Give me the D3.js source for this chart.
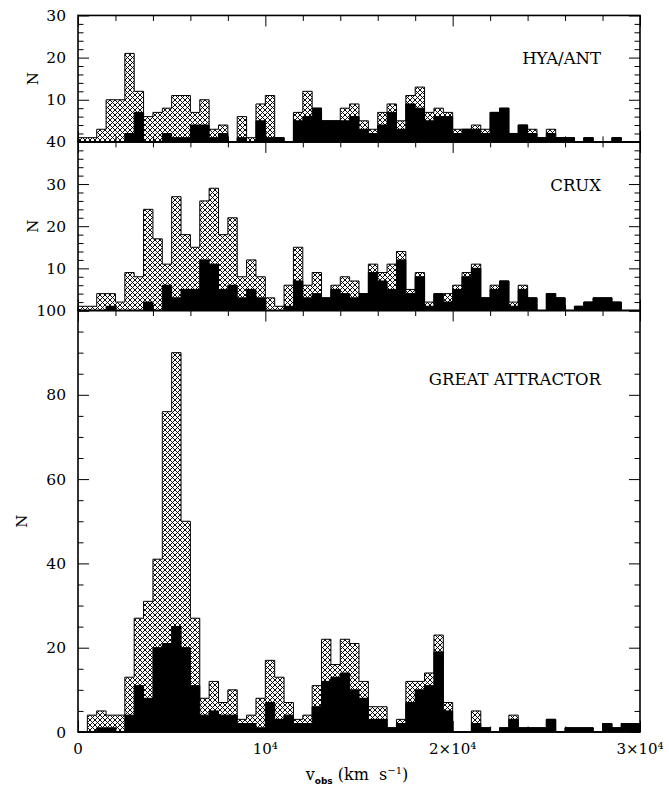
<!DOCTYPE html>
<html>
<head>
<meta charset="utf-8">
<script src="https://d3js.org/d3.v7.min.js"></script>
<style>
  html, body { margin: 0; padding: 0; background: #fff; }
  svg { display: block; }
</style>
</head>
<body>
<svg id="chart" width="669" height="787"></svg>
<script>
// ---------------- data (500 km/s bins, 0 .. 30000 km/s) ----------------
const binWidth = 500;
const xMax = 30000;

const hyaTotal = [1,1,3,10,10,21,12,6,7,8,11,11,7,10,3,4,0,6,1,9,11,1,0,7,12,8,5,5,8,9,
                  5,3,7,9,5,11,13,7,8,7,3,3,4,3,7,8,2,4,3,1,3,1,1,0,1,0,0,1,0,0];
const hyaBlack = [0,0,0,0,0,2,7,0,0,2,1,1,4,4,1,2,0,1,0,5,1,1,0,5,6,8,5,5,5,6,
                  3,2,4,7,3,9,8,5,6,6,2,3,3,2,7,8,2,4,2,1,2,1,1,0,1,0,0,1,0,0];

const cruxTotal = [1,1,4,4,2,9,8,24,17,11,27,18,15,26,29,18,22,8,12,8,3,1,6,15,6,9,3,6,8,7,
                   4,11,9,11,14,5,9,2,4,4,6,9,11,3,6,7,2,6,3,0,4,3,0,1,2,3,3,2,0,0];
const cruxBlack = [0,0,0,1,0,0,0,2,0,6,3,5,5,12,11,5,6,3,5,3,0,0,1,7,3,4,3,5,4,3,
                   4,9,7,5,12,4,8,1,4,2,5,8,10,3,5,7,1,5,3,0,4,3,0,1,2,3,3,2,0,0];

const gaTotal = [0,4,5,4,4,13,27,31,41,76,90,50,27,8,12,7,10,3,4,8,17,13,7,3,4,11,22,16,22,21,
                 12,6,6,1,3,12,12,14,23,7,0,0,5,1,0,1,4,1,1,1,3,0,1,1,1,0,2,1,2,2];
const gaBlack = [0,0,1,1,0,4,11,8,20,21,25,20,11,4,5,4,4,2,2,1,7,3,4,2,2,6,12,13,14,10,
                 8,3,3,1,2,7,10,11,19,5,0,0,2,1,0,1,3,1,1,1,3,0,1,1,1,0,2,1,2,2];

const panelNames = ["HYA/ANT", "CRUX", "GREAT ATTRACTOR"];
const yMaxes = [30, 40, 100];
const yMajorSteps = [10, 10, 20];
const yMinorSteps = [2, 2, 5];
const xMajorTicks = [0, 10000, 20000, 30000];
const xTickLabels = ["0", "10\u2074", "2\u00d710\u2074", "3\u00d710\u2074"];
const xMinorStep = 2000;

// ---------------- layout ----------------
const svg = d3.select("#chart");
const left = 78, right = 640;
const bottom = 732, pxPerUnit = 4.215;

const x = d3.scaleLinear().domain([0, xMax]).range([left, right]);

const defs = svg.append("defs");
const P = 5;
const pat = defs.append("pattern").attr("id", "hatch")
  .attr("patternUnits", "userSpaceOnUse").attr("width", P).attr("height", P);
pat.append("rect").attr("width", P).attr("height", P).attr("fill", "#fff");
pat.append("path").attr("d", `M0,0L${P},${P}M${P},0L0,${P}`)
  .attr("stroke", "#000").attr("stroke-width", 0.95).attr("fill", "none");

const totals = [hyaTotal, cruxTotal, gaTotal];
const blacks = [hyaBlack, cruxBlack, gaBlack];

// compute panel vertical extents (bottom panel first)
const panels = [];
let yb = bottom;
for (let p = 2; p >= 0; p--) {
  const yt = yb - yMaxes[p] * pxPerUnit;
  panels[p] = { bottomPx: yb, topPx: yt };
  yb = yt;
}

function stepData(counts) {
  const d = counts.map((c, i) => ({ v: i * binWidth, c }));
  d.push({ v: counts.length * binWidth, c: counts[counts.length - 1] });
  return d;
}

panels.forEach((pp, p) => {
  const y = d3.scaleLinear().domain([0, yMaxes[p]]).range([pp.bottomPx, pp.topPx]);
  const g = svg.append("g");
  const area = d3.area().x(d => x(d.v)).y0(y(0)).y1(d => y(d.c)).curve(d3.curveStepAfter);

  g.append("path").datum(stepData(totals[p])).attr("d", area)
    .attr("fill", "url(#hatch)").attr("stroke", "#000").attr("stroke-width", 1);
  g.append("path").datum(stepData(blacks[p])).attr("d", area)
    .attr("fill", "#000").attr("stroke", "#000").attr("stroke-width", 1);

  const h = pp.bottomPx - pp.topPx;
  const xMinor = d3.range(0, xMax + 1, xMinorStep).filter(v => v % 10000 !== 0);
  const yMinor = d3.range(0, yMaxes[p] + 0.001, yMinorSteps[p]).filter(v => v % yMajorSteps[p] !== 0);
  const yMajor = d3.range(0, yMaxes[p] + 0.001, yMajorSteps[p]);

  const mk = (axisFn, scale, vals, len, tx, ty) => {
    g.append("g").attr("transform", `translate(${tx},${ty})`)
      .call(axisFn(scale).tickValues(vals).tickSize(-len).tickFormat(""))
      .call(a => a.select(".domain").remove())
      .call(a => a.selectAll("line").attr("stroke", "#000").attr("stroke-width", 1));
  };
  // bottom & top x ticks
  mk(d3.axisBottom, x, xMinor, 5.5, 0, pp.bottomPx);
  mk(d3.axisBottom, x, xMajorTicks, 11, 0, pp.bottomPx);
  mk(d3.axisTop, x, xMinor, 5.5, 0, pp.topPx);
  mk(d3.axisTop, x, xMajorTicks, 11, 0, pp.topPx);
  // left & right y ticks
  mk(d3.axisLeft, y, yMinor, 5.5, left, 0);
  mk(d3.axisLeft, y, yMajor, 11, left, 0);
  mk(d3.axisRight, y, yMinor, 5.5, right, 0);
  mk(d3.axisRight, y, yMajor, 11, right, 0);

  // y tick labels (the 0 of upper panels is hidden under the next panel's top label)
  const labVals = (p === 2) ? yMajor : yMajor.filter(v => v !== 0);
  g.selectAll("text.ylab").data(labVals).join("text")
    .attr("x", left - 12).attr("y", d => y(d) + 5.5)
    .attr("text-anchor", "end")
    .style("font-family", "DejaVu Serif").style("font-size", "15.5px")
    .text(d => d);

  // N label
  const nx = (p === 2) ? 22 : 33;
  g.append("text")
    .attr("transform", `translate(${nx},${(pp.topPx + pp.bottomPx) / 2}) rotate(-90)`)
    .attr("text-anchor", "middle").attr("dy", "0.35em")
    .style("font-family", "DejaVu Serif").style("font-size", "15px")
    .text("N");

  // panel name
  g.append("text")
    .attr("x", 601).attr("y", pp.topPx + [49, 49, 74][p])
    .attr("text-anchor", "end")
    .style("font-family", "DejaVu Serif").style("font-size", "16.5px")
    .text(panelNames[p]);

  // frame
  g.append("rect").attr("x", left).attr("y", pp.topPx)
    .attr("width", right - left).attr("height", h)
    .attr("fill", "none").attr("stroke", "#000").attr("stroke-width", 1.6);
});

// x tick labels
svg.append("g").selectAll("text").data(xMajorTicks).join("text")
  .attr("x", d => x(d)).attr("y", 754)
  .attr("text-anchor", "middle")
  .style("font-family", "DejaVu Serif").style("font-size", "15px")
  .text((d, i) => xTickLabels[i]);

// x axis title
const t = svg.append("text").attr("x", 357).attr("y", 780).attr("text-anchor", "middle")
  .style("font-family", "DejaVu Serif").style("font-size", "16px");
t.append("tspan").text("v");
t.append("tspan").attr("dy", 4).style("font-size", "9px").style("font-family", "DejaVu Sans").style("font-weight", "bold").text("obs");
t.append("tspan").attr("dy", -4).text("\u00a0(km\u00a0\u00a0s");
t.append("tspan").attr("dy", -6).style("font-size", "10px").text("\u22121");
t.append("tspan").attr("dy", 6).text(")");
</script>
</body>
</html>
